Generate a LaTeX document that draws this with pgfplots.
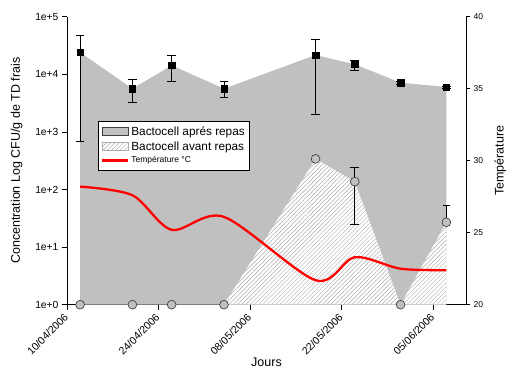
\documentclass[border=0pt]{standalone}
\usepackage{fontspec}
\setmainfont{Liberation Sans}
\usepackage{pgfplots}
\pgfplotsset{compat=1.18}
\usetikzlibrary{patterns,patterns.meta}
\definecolor{areagray}{HTML}{C0C0C0}
\definecolor{hatchgray}{HTML}{ABABAB}
\pgfplotsset{errbar/.style={black, line width=0.6pt, mark=-, mark size=4.3pt, mark options={solid, line width=0.6pt}, forget plot}}
\begin{document}
\begin{tikzpicture}
\begin{axis}[
  at={(67pt,63.3pt)}, anchor=south west,
  scale only axis, width=399pt, height=288pt,
  xmin=0, xmax=61, ymin=1, ymax=1e5, ymode=log,
  axis x line*=bottom, axis y line*=left, axis line style={-, line width=0.6pt},
  xtick={0,14,28,42,56},
  xticklabels={10/04/2006,24/04/2006,08/05/2006,22/05/2006,05/06/2006},
  x tick label style={rotate=45, anchor=east, font=\fontsize{10.5}{12}\selectfont, inner sep=1pt},
  xticklabel shift=5pt,
  ytick={1,10,100,1000,10000,100000},
  yticklabels={1e+0,1e+1,1e+2,1e+3,1e+4,1e+5},
  y tick label style={font=\fontsize{10.3}{12}\selectfont},
  tick align=outside, major tick length=5pt, minor tick length=0pt,
  tick style={black, line width=0.6pt},
  xlabel={Jours}, ylabel={Concentration Log CFU/g de TD frais},
  label style={font=\fontsize{12.5}{14}\selectfont},
  xlabel style={yshift=2.5pt},
  ylabel shift=6pt,
  clip=false,
]
% Bactocell apres repas (area)
\addplot[fill=areagray, draw=none, forget plot] coordinates {(2,1) (2,24100) (10,5620) (16,14300) (24,5620) (38,21600) (44,14900) (51,7150) (58,6030) (58,1)};
% Bactocell avant repas (hatched area)
\addplot[fill=white, draw=none, forget plot] coordinates {(24,1) (38,340) (44,137) (51,1) (58,27) (58,1)};
\addplot[pattern={Lines[angle=45,distance=3pt,line width=0.45pt]}, pattern color=hatchgray, draw=none, forget plot] coordinates {(24,1) (38,340) (44,137) (51,1) (58,27) (58,1)};
% error bars
\addplot[errbar] coordinates {(2,690) (2,48000)};
\addplot[errbar] coordinates {(10,3270) (10,8060)};
\addplot[errbar] coordinates {(16,7560) (16,21000)};
\addplot[errbar] coordinates {(24,3990) (24,7440)};
\addplot[errbar] coordinates {(38,2020) (38,41000)};
\addplot[errbar] coordinates {(44,11700) (44,17700)};
\addplot[errbar] coordinates {(51,6700) (51,7650)};
\addplot[errbar] coordinates {(58,5800) (58,6300)};
\addplot[errbar] coordinates {(44,24.9) (44,243)};
\addplot[errbar, mark size=3.6pt] coordinates {(58,27) (58,54)};
% markers
\addplot[only marks, mark=square*, mark size=3.2pt, black, forget plot] coordinates {(2,24100) (10,5620) (16,14300) (24,5620) (38,21600) (44,14900) (51,7150) (58,6030)};
\addplot[only marks, mark=*, mark size=4.4pt, mark options={fill=areagray, draw=black!80, line width=0.6pt}, forget plot] coordinates {(2,1) (10,1) (16,1) (24,1) (38,340) (44,137) (51,1) (58,27)};
\end{axis}
\begin{axis}[
  at={(67pt,63.3pt)}, anchor=south west,
  scale only axis, width=399pt, height=288pt,
  xmin=0, xmax=61, ymin=20, ymax=40,
  axis x line=none, axis y line*=right, axis line style={-, line width=0.6pt},
  ytick={20,25,30,35,40},
  y tick label style={font=\fontsize{8.5}{10}\selectfont},
  /pgf/number format/assume math mode=true,
  tick align=outside, major tick length=4pt, minor tick length=0pt,
  tick style={black, line width=0.6pt},
  ylabel={Température},
  label style={font=\fontsize{12.5}{14}\selectfont},
  ylabel shift=4.5pt,
  legend style={at={(0.077,0.639)}, anchor=north west, draw=black, line width=0.6pt,
    font=\fontsize{11.8}{13}\selectfont, inner xsep=3pt, inner ysep=3.5pt, row sep=1pt, cells={anchor=west}},
  legend cell align=left,
]
\addlegendimage{legend image code/.code={\draw[fill=areagray, draw=black!75, line width=0.6pt] (0pt,-4pt) rectangle (26pt,4pt);}}
\addlegendentry{Bactocell aprés repas}
\addlegendimage{legend image code/.code={\draw[pattern={Lines[angle=45,distance=3pt,line width=0.45pt]}, pattern color=hatchgray, draw=hatchgray, line width=0.5pt] (0pt,-4pt) rectangle (26pt,4pt);}}
\addlegendentry{Bactocell avant repas}
\addplot[red, line width=2.3pt, smooth, legend image code/.code={\draw[red, line width=2.3pt] (0pt,0pt) -- (26pt,0pt);}] coordinates {(2,28.2) (10,27.6) (16,25.2) (24,26.1) (38,21.7) (44,23.3) (51,22.5) (58,22.4)};
\addlegendentry{\fontsize{8.5}{10}\selectfont Température °C}
\end{axis}
\pgfresetboundingbox
\useasboundingbox (0,0) rectangle (507pt,368pt);
\end{tikzpicture}
\end{document}
